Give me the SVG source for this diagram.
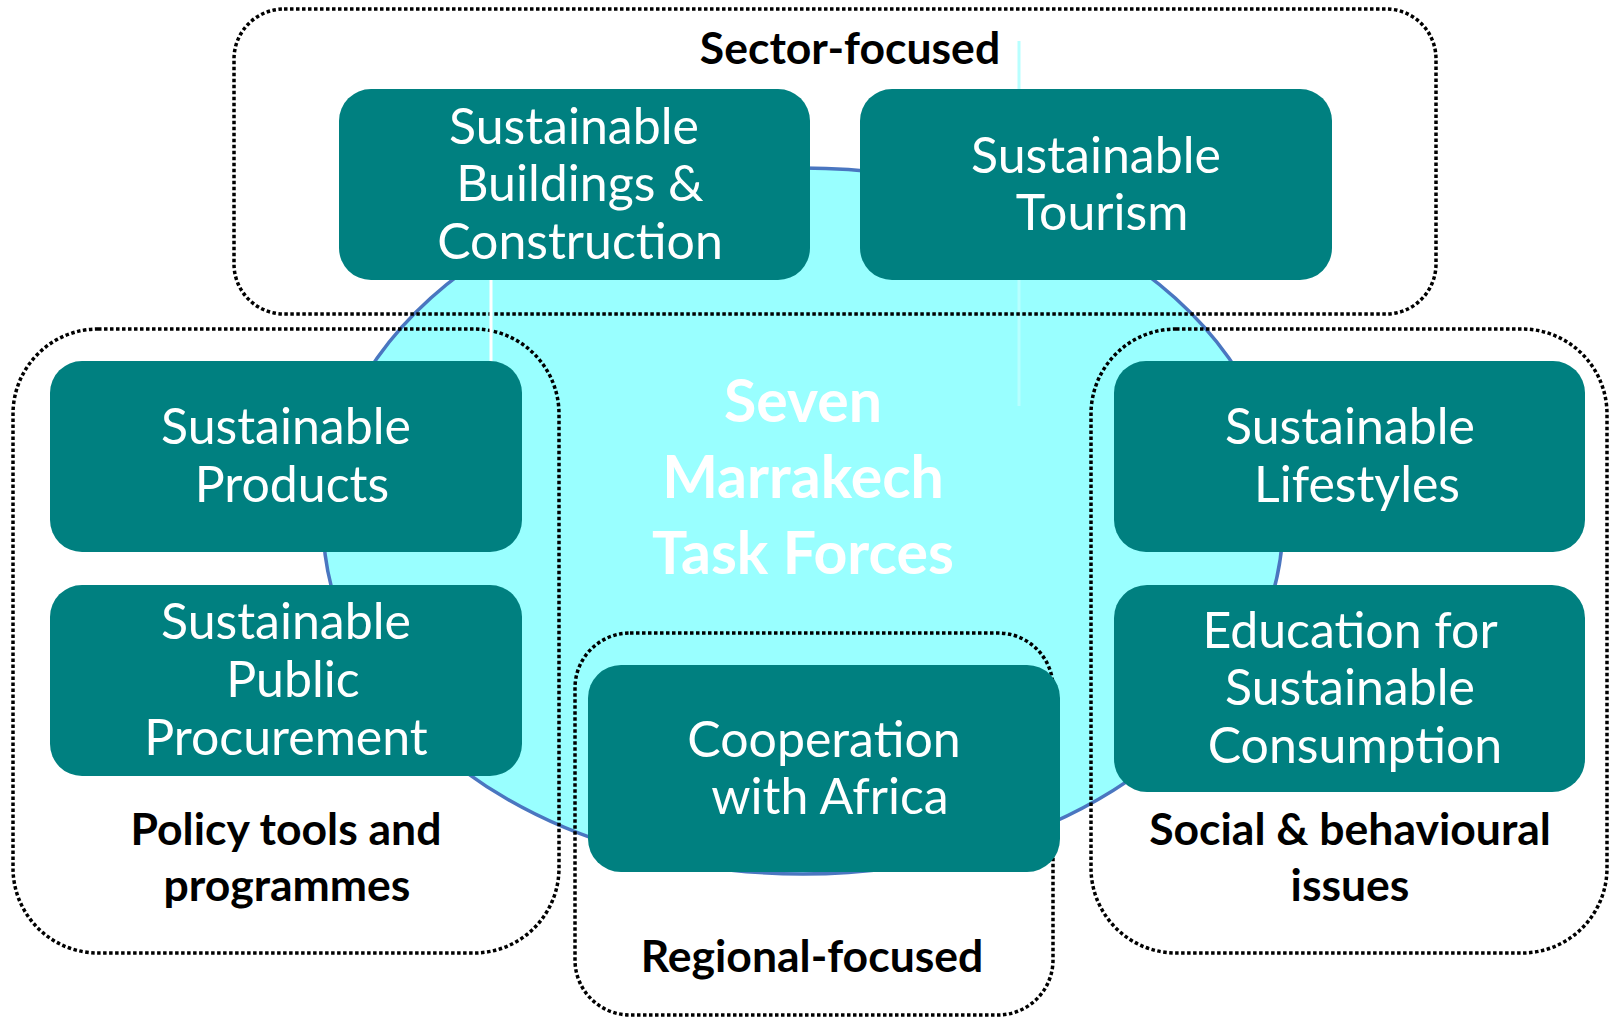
<svg xmlns="http://www.w3.org/2000/svg" width="1612" height="1017" viewBox="0 0 1612 1017">
<style>
.dot{fill:none;stroke:#000;stroke-width:3.5;stroke-dasharray:3.5 2.5}
.box{fill:#008080}
.nt{font-family:Lato,"Liberation Sans",sans-serif;font-size:50px;fill:#fff;text-anchor:middle}
.lb{font-family:Lato,"Liberation Sans",sans-serif;font-weight:bold;font-size:44.5px;fill:#000;text-anchor:middle}
.ct{font-family:Lato,"Liberation Sans",sans-serif;font-weight:bold;font-size:59px;fill:#fff;text-anchor:middle}
</style>
<rect width="1612" height="1017" fill="#fff"/>
<g id="hub">
<ellipse cx="803" cy="521" rx="480" ry="353" fill="#99FFFF" stroke="#4A76C0" stroke-width="3.5"/>
</g>
<g id="connectors">
<line x1="1019" y1="41" x2="1019" y2="406" stroke="#B8FFFF" stroke-width="3"/>
</g>
<g id="groups">
<rect id="g-sector" class="dot" x="234" y="9" width="1202" height="305" rx="50"/>
<rect id="g-policy" class="dot" x="13" y="329" width="546" height="624" rx="85"/>
<rect id="g-social" class="dot" x="1091" y="329" width="516" height="624" rx="85"/>
<rect id="g-regional" class="dot" x="575" y="633" width="478" height="382" rx="55"/>
</g>
<g id="connectors2">
<line x1="491" y1="280" x2="491" y2="362" stroke="#fff" stroke-width="3"/>
</g>
<g id="n-buildings">
<rect class="box" x="339" y="89" width="471" height="191" rx="32"/>
<text class="nt" x="574" y="144">Sustainable</text>
<text class="nt" x="580" y="201">Buildings &amp;</text>
<text class="nt" x="580" y="259">Construction</text>
</g>
<g id="n-tourism">
<rect class="box" x="860" y="89" width="472" height="191" rx="32"/>
<text class="nt" x="1096" y="173">Sustainable</text>
<text class="nt" x="1102" y="230">Tourism</text>
</g>
<g id="n-products">
<rect class="box" x="50" y="361" width="472" height="191" rx="32"/>
<text class="nt" x="286" y="444">Sustainable</text>
<text class="nt" x="292" y="502">Products</text>
</g>
<g id="n-procurement">
<rect class="box" x="50" y="585" width="472" height="191" rx="32"/>
<text class="nt" x="286" y="639">Sustainable</text>
<text class="nt" x="293" y="697">Public</text>
<text class="nt" x="286" y="755">Procurement</text>
</g>
<g id="n-lifestyles">
<rect class="box" x="1114" y="361" width="471" height="191" rx="32"/>
<text class="nt" x="1350" y="444">Sustainable</text>
<text class="nt" x="1357" y="502">Lifestyles</text>
</g>
<g id="n-education">
<rect class="box" x="1114" y="585" width="471" height="207" rx="33"/>
<text class="nt" x="1350" y="648">Education for</text>
<text class="nt" x="1350" y="705">Sustainable</text>
<text class="nt" x="1355" y="763">Consumption</text>
</g>
<g id="n-africa">
<rect class="box" x="588" y="665" width="472" height="207" rx="33"/>
<text class="nt" x="824" y="757">Cooperation</text>
<text class="nt" x="830" y="814">with Africa</text>
</g>
<g id="center-label">
<text class="ct" x="803" y="422">Seven</text>
<text class="ct" x="803" y="498">Marrakech</text>
<text class="ct" x="803" y="574">Task Forces</text>
</g>
<g id="labels">
<text class="lb" x="850" y="64">Sector-focused</text>
<text class="lb" x="286" y="845">Policy tools and</text>
<text class="lb" x="287" y="901">programmes</text>
<text class="lb" x="1350" y="845">Social &amp; behavioural</text>
<text class="lb" x="1350" y="901">issues</text>
<text class="lb" x="812" y="972">Regional-focused</text>
</g>
</svg>
